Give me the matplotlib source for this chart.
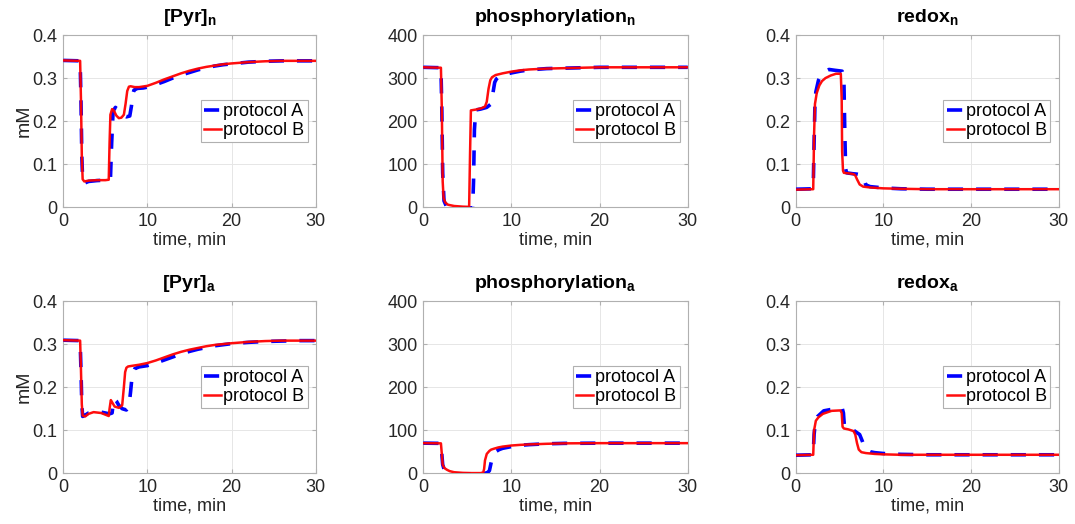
import matplotlib
matplotlib.use("Agg")
import matplotlib.pyplot as plt

plt.rcParams['font.family'] = ['Liberation Sans', 'DejaVu Sans']
plt.rcParams['mathtext.fontset'] = 'custom'
plt.rcParams['mathtext.rm'] = 'Liberation Sans'
plt.rcParams['mathtext.bf'] = 'Liberation Sans:bold'

# ---------------- data ----------------
# [Pyr]_n
t_pyrn_A = [0, 2.0, 2.1, 2.2, 2.3, 2.5, 3, 4, 5, 5.6, 5.75, 5.9, 6.0, 6.2, 6.5, 7.0, 7.5, 7.9, 8.1, 8.25, 8.4, 8.8, 9.5, 10, 11, 12, 13, 14, 15, 16, 17, 18, 19, 20, 22, 24, 26, 28, 30]
pyrn_A = [0.341, 0.340, 0.25, 0.12, 0.062, 0.056, 0.060, 0.062, 0.063, 0.064, 0.15, 0.215, 0.226, 0.232, 0.226, 0.215, 0.210, 0.212, 0.235, 0.262, 0.272, 0.276, 0.277, 0.279, 0.285, 0.292, 0.300, 0.307, 0.313, 0.319, 0.324, 0.328, 0.331, 0.333, 0.337, 0.339, 0.340, 0.340, 0.340]
t_pyrn_B = [0, 2.0, 2.1, 2.2, 2.3, 2.5, 3, 4, 5, 5.4, 5.5, 5.6, 5.8, 6.0, 6.3, 6.6, 6.9, 7.2, 7.4, 7.6, 7.8, 8.0, 8.5, 9, 10, 11, 12, 13, 14, 15, 16, 17, 18, 19, 20, 22, 24, 26, 28, 30]
pyrn_B = [0.341, 0.340, 0.25, 0.12, 0.065, 0.060, 0.062, 0.063, 0.063, 0.064, 0.15, 0.215, 0.228, 0.225, 0.213, 0.207, 0.208, 0.215, 0.240, 0.270, 0.280, 0.281, 0.279, 0.279, 0.282, 0.289, 0.297, 0.304, 0.311, 0.317, 0.322, 0.326, 0.329, 0.332, 0.334, 0.337, 0.339, 0.340, 0.340, 0.340]

# phosphorylation_n
t_phn_A = [0, 2.0, 2.1, 2.2, 2.35, 2.6, 3, 4, 5, 5.6, 5.7, 5.8, 5.95, 6.5, 7.2, 7.7, 7.9, 8.1, 8.3, 8.6, 9, 10, 11, 12, 14, 16, 18, 20, 25, 30]
phn_A = [325, 324, 230, 80, 15, 3, 0, -2, -2, -1, 60, 180, 226, 228, 232, 240, 265, 290, 298, 303, 307, 312, 316, 319, 322, 323, 324, 325, 325, 325]
t_phn_B = [0, 2.0, 2.1, 2.2, 2.3, 2.5, 2.8, 3.5, 4.5, 5.2, 5.3, 5.4, 6.0, 6.6, 7.0, 7.2, 7.4, 7.6, 7.8, 8.2, 8.6, 9, 10, 11, 12, 14, 16, 18, 20, 25, 30]
phn_B = [325, 324, 230, 60, 22, 11, 6, 3, 1.5, 1, 120, 225, 227, 230, 234, 245, 275, 295, 302, 307, 309, 311, 315, 318, 320, 322, 323, 324, 325, 325, 325]

# redox_n
t_rxn_A = [0, 2.0, 2.1, 2.2, 2.3, 2.6, 2.9, 3.3, 3.8, 4.5, 5.3, 5.5, 5.6, 5.7, 5.8, 6.5, 7.0, 7.4, 7.7, 7.85, 8.0, 8.5, 9, 10, 12, 15, 20, 30]
rxn_A = [0.042, 0.043, 0.15, 0.24, 0.268, 0.295, 0.307, 0.315, 0.320, 0.318, 0.316, 0.30, 0.18, 0.09, 0.080, 0.078, 0.077, 0.075, 0.073, 0.062, 0.052, 0.048, 0.047, 0.045, 0.043, 0.042, 0.042, 0.042]
t_rxn_B = [0, 2.0, 2.1, 2.2, 2.4, 2.7, 3.0, 3.4, 4.0, 4.6, 5.15, 5.25, 5.3, 5.4, 5.5, 6.0, 6.6, 6.8, 7.0, 7.3, 7.7, 8.5, 10, 12, 15, 20, 30]
rxn_B = [0.041, 0.042, 0.17, 0.24, 0.265, 0.283, 0.293, 0.300, 0.306, 0.310, 0.310, 0.25, 0.13, 0.085, 0.080, 0.079, 0.077, 0.074, 0.065, 0.053, 0.048, 0.046, 0.044, 0.043, 0.042, 0.042, 0.042]

# [Pyr]_a
t_pyra_A = [0, 2.0, 2.1, 2.2, 2.3, 2.6, 3, 3.6, 4.5, 5.5, 5.8, 5.95, 6.05, 6.3, 6.6, 7.0, 7.5, 7.8, 8.0, 8.2, 8.5, 9, 10, 11, 12, 13, 14, 15, 16, 17, 18, 20, 22, 24, 26, 28, 30]
pyra_A = [0.309, 0.308, 0.24, 0.16, 0.132, 0.135, 0.140, 0.142, 0.142, 0.138, 0.140, 0.165, 0.173, 0.168, 0.158, 0.150, 0.147, 0.155, 0.190, 0.230, 0.243, 0.247, 0.250, 0.256, 0.263, 0.270, 0.277, 0.283, 0.288, 0.292, 0.296, 0.301, 0.304, 0.306, 0.307, 0.308, 0.308]
t_pyra_B = [0, 2.0, 2.1, 2.2, 2.3, 2.6, 3.0, 3.6, 4.5, 5.4, 5.5, 5.65, 5.8, 6.1, 6.6, 7.0, 7.2, 7.35, 7.5, 7.7, 8.0, 9, 10, 11, 12, 13, 14, 15, 16, 17, 18, 20, 22, 24, 26, 28, 30]
pyra_B = [0.309, 0.308, 0.24, 0.16, 0.134, 0.132, 0.138, 0.142, 0.140, 0.133, 0.150, 0.170, 0.165, 0.155, 0.152, 0.158, 0.200, 0.235, 0.245, 0.248, 0.249, 0.252, 0.256, 0.262, 0.269, 0.276, 0.282, 0.287, 0.291, 0.295, 0.298, 0.302, 0.305, 0.307, 0.308, 0.308, 0.308]

# phosphorylation_a
t_pha_A = [0, 2.0, 2.1, 2.2, 2.35, 2.6, 3, 3.5, 4.5, 6, 7.0, 7.3, 7.5, 7.7, 7.9, 8.2, 8.6, 9, 9.5, 10, 11, 12, 14, 16, 20, 25, 30]
pha_A = [70, 69.5, 45, 20, 10, 5, 1, -1, -2, -1, 0, 2, 6, 25, 42, 50, 55, 58, 60, 62, 65, 66.5, 68.5, 69.5, 70, 70, 70]
t_pha_B = [0, 2.0, 2.1, 2.2, 2.4, 2.7, 3.0, 3.5, 4.5, 5.5, 6.5, 6.8, 6.9, 7.0, 7.2, 7.5, 7.7, 8, 8.5, 9, 10, 11, 12, 14, 16, 20, 25, 30]
pha_B = [70, 69.5, 45, 20, 12, 8, 5, 2.5, 1, 0.5, 0.5, 2, 10, 30, 45, 52, 55, 57, 60, 62, 64.5, 66, 67, 68.5, 69.5, 70, 70, 70]

# redox_a
t_rxa_A = [0, 2.0, 2.1, 2.25, 2.5, 3.2, 4.5, 5.3, 5.45, 5.55, 5.7, 6.6, 7.3, 7.6, 7.8, 8.0, 8.5, 9, 10, 12, 15, 20, 30]
rxa_A = [0.042, 0.043, 0.09, 0.120, 0.132, 0.145, 0.150, 0.152, 0.140, 0.112, 0.105, 0.100, 0.090, 0.075, 0.063, 0.055, 0.050, 0.048, 0.046, 0.044, 0.043, 0.043, 0.043]
t_rxa_B = [0, 2.0, 2.1, 2.3, 2.6, 3.1, 4.1, 5.1, 5.25, 5.35, 5.5, 6.0, 6.6, 6.8, 7.0, 7.2, 7.5, 8, 9, 10, 12, 15, 20, 30]
rxa_B = [0.042, 0.043, 0.10, 0.122, 0.130, 0.138, 0.145, 0.146, 0.140, 0.108, 0.104, 0.102, 0.098, 0.090, 0.070, 0.055, 0.049, 0.047, 0.045, 0.044, 0.043, 0.043, 0.043, 0.043]

titles = [r'[Pyr]$_\mathbf{n}$', r'phosphorylation$_\mathbf{n}$', r'redox$_\mathbf{n}$',
          r'[Pyr]$_\mathbf{a}$', r'phosphorylation$_\mathbf{a}$', r'redox$_\mathbf{a}$']
series = [
    (t_pyrn_A, pyrn_A, t_pyrn_B, pyrn_B),
    (t_phn_A, phn_A, t_phn_B, phn_B),
    (t_rxn_A, rxn_A, t_rxn_B, rxn_B),
    (t_pyra_A, pyra_A, t_pyra_B, pyra_B),
    (t_pha_A, pha_A, t_pha_B, pha_B),
    (t_rxa_A, rxa_A, t_rxa_B, rxa_B),
]
ylims = [0.4, 400, 0.4, 0.4, 400, 0.4]
yticks_small = [0, 0.1, 0.2, 0.3, 0.4]
yticks_big = [0, 100, 200, 300, 400]
xticks = [0, 10, 20, 30]
legend_labels = ['protocol A', 'protocol B']

# ---------------- layout ----------------
W, H = 1075, 524
fig = plt.figure(figsize=(W / 100, H / 100), dpi=100)
cols = [(63.3, 315.7), (423.3, 687.7), (795.7, 1058.5)]
rows = [(35.0, 207.3), (301.0, 473.3)]

spine_c = '#b0b0b0'
text_c = '#262626'
FS = 13

for i in range(6):
    r, c = divmod(i, 3)
    x0, x1 = cols[c]
    y0, y1 = rows[r]
    ax = fig.add_axes([x0 / W, 1 - y1 / H, (x1 - x0) / W, (y1 - y0) / H])
    tA, vA, tB, vB = series[i]
    ax.plot(tA, vA, color=(0, 0, 1), lw=2.6, dashes=(4.2, 3.6), label=legend_labels[0], zorder=3)
    ax.plot(tB, vB, color=(1, 0, 0), lw=1.8, label=legend_labels[1], zorder=4, alpha=0.95)
    ax.set_xlim(0, 30)
    ax.set_ylim(0, ylims[i])
    ax.set_xticks(xticks)
    ax.set_yticks(yticks_small if ylims[i] < 1 else yticks_big)
    ax.set_yticklabels(['0', '0.1', '0.2', '0.3', '0.4'] if ylims[i] < 1 else ['0', '100', '200', '300', '400'])
    ax.grid(True, color='#e6e6e6', lw=0.7)
    ax.set_axisbelow(True)
    for s in ax.spines.values():
        s.set_color(spine_c)
        s.set_linewidth(0.8)
    ax.tick_params(direction='in', length=3, color=spine_c, labelcolor=text_c,
                   labelsize=FS, top=True, right=True, pad=4)
    ax.set_xlabel('time, min', fontsize=FS, color=text_c, labelpad=1)
    if c == 0:
        ax.set_ylabel('mM', fontsize=14, color=text_c, labelpad=0)
    ax.set_title(titles[i], fontsize=14, fontweight='bold', color='black', pad=9)
    leg = ax.legend(loc='center right', fontsize=FS, frameon=True, fancybox=False,
                    edgecolor='#b0b0b0', framealpha=1, handlelength=0.95,
                    handletextpad=0.12, borderpad=0.18, labelspacing=0.1,
                    borderaxespad=0.45)
    leg.get_frame().set_linewidth(0.8)
    for txt in leg.get_texts():
        txt.set_color('black')

fig.savefig('out.png', dpi=100)
